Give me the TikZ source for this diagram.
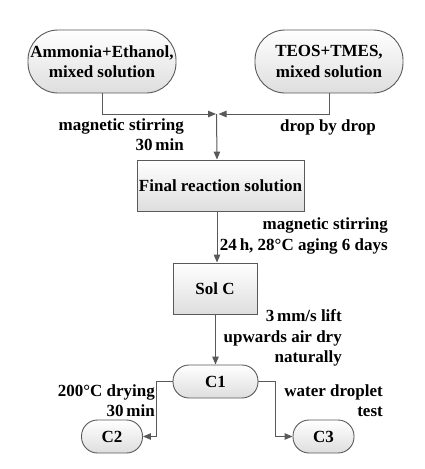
\documentclass[tikz,border=0pt]{standalone}
\usepackage{fontspec}
\setmainfont{Liberation Serif}
\usetikzlibrary{arrows.meta}
\tikzset{
  base/.style={draw=black!65,line width=0.9pt,top color=white,bottom color=black!13,
    font=\fontsize{17}{20.5}\selectfont\bfseries,align=center,inner sep=0pt},
  bigpill/.style={base,rounded corners=30pt,minimum width=148pt,minimum height=63pt},
  pill/.style={base,rounded corners=16pt,minimum width=85pt,minimum height=33pt},
  smallpill/.style={base,rounded corners=16pt,minimum width=61pt,minimum height=33pt},
  stepbox/.style={base,minimum height=51pt},
  lbl/.style={font=\fontsize{17}{20.5}\selectfont\bfseries,align=right,inner sep=0pt},
  link/.style={draw=black!65,line width=1pt,->}
}
\begin{document}
\begin{tikzpicture}[x=1pt,y=-1pt,>={Triangle[length=8pt,width=6.5pt]}]
 \useasboundingbox (0,0) rectangle (425,469);
 % start solutions
 \node[bigpill] (amm) at (102,61.5) {Ammonia+Ethanol,\\mixed solution};
 \node[bigpill] (teos) at (329,61.5) {TEOS+TMES,\\mixed solution};
 \coordinate (mix) at (217,114);
 % main chain
 \node[stepbox,minimum width=167pt] (final) at (220.5,185.5) {Final reaction solution};
 \node[stepbox,minimum width=84pt] (solc) at (215,288.5) {Sol C};
 \node[pill] (c1) at (215.5,381.5) {C1};
 \node[smallpill] (c2) at (112,436.5) {C2};
 \node[smallpill] (c3) at (323.5,436.5) {C3};
 % connectors
 \draw[link] (amm.south) |- ([xshift=-1pt]mix);
 \draw[link] (teos.south) |- ([xshift=1.5pt]mix);
 \draw[link] ([xshift=-0.5pt]mix) -- (mix |- final.north);
 \draw[link] (final.south -| mix) -- (mix |- solc.north);
 \draw[link] (solc.south -| c1.north) -- (c1.north);
 \draw[link] (c1.west) -- ++(-16,0) |- (c2.east);
 \draw[link] (c1.east) -- ++(17,0) |- (c3.west);
 % step labels
 \node[lbl,anchor=east] (l1) at (184,134.5) {magnetic stirring\\30\,min};
 \node[lbl] (l2) at (328,127) {drop by drop};
 \node[lbl,anchor=east] (l3) at (388,236) {magnetic stirring\\24\,h, 28\textdegree C aging 6 days};
 \node[lbl,anchor=east] (l4) at (342,338) {3\,mm/s lift\\upwards air dry\\naturally};
 \node[lbl,anchor=east] (l5) at (155,400.5) {200\textdegree C drying\\30\,min};
 \node[lbl,anchor=east] (l6) at (383,400.5) {water droplet\\test};
\end{tikzpicture}
\end{document}
